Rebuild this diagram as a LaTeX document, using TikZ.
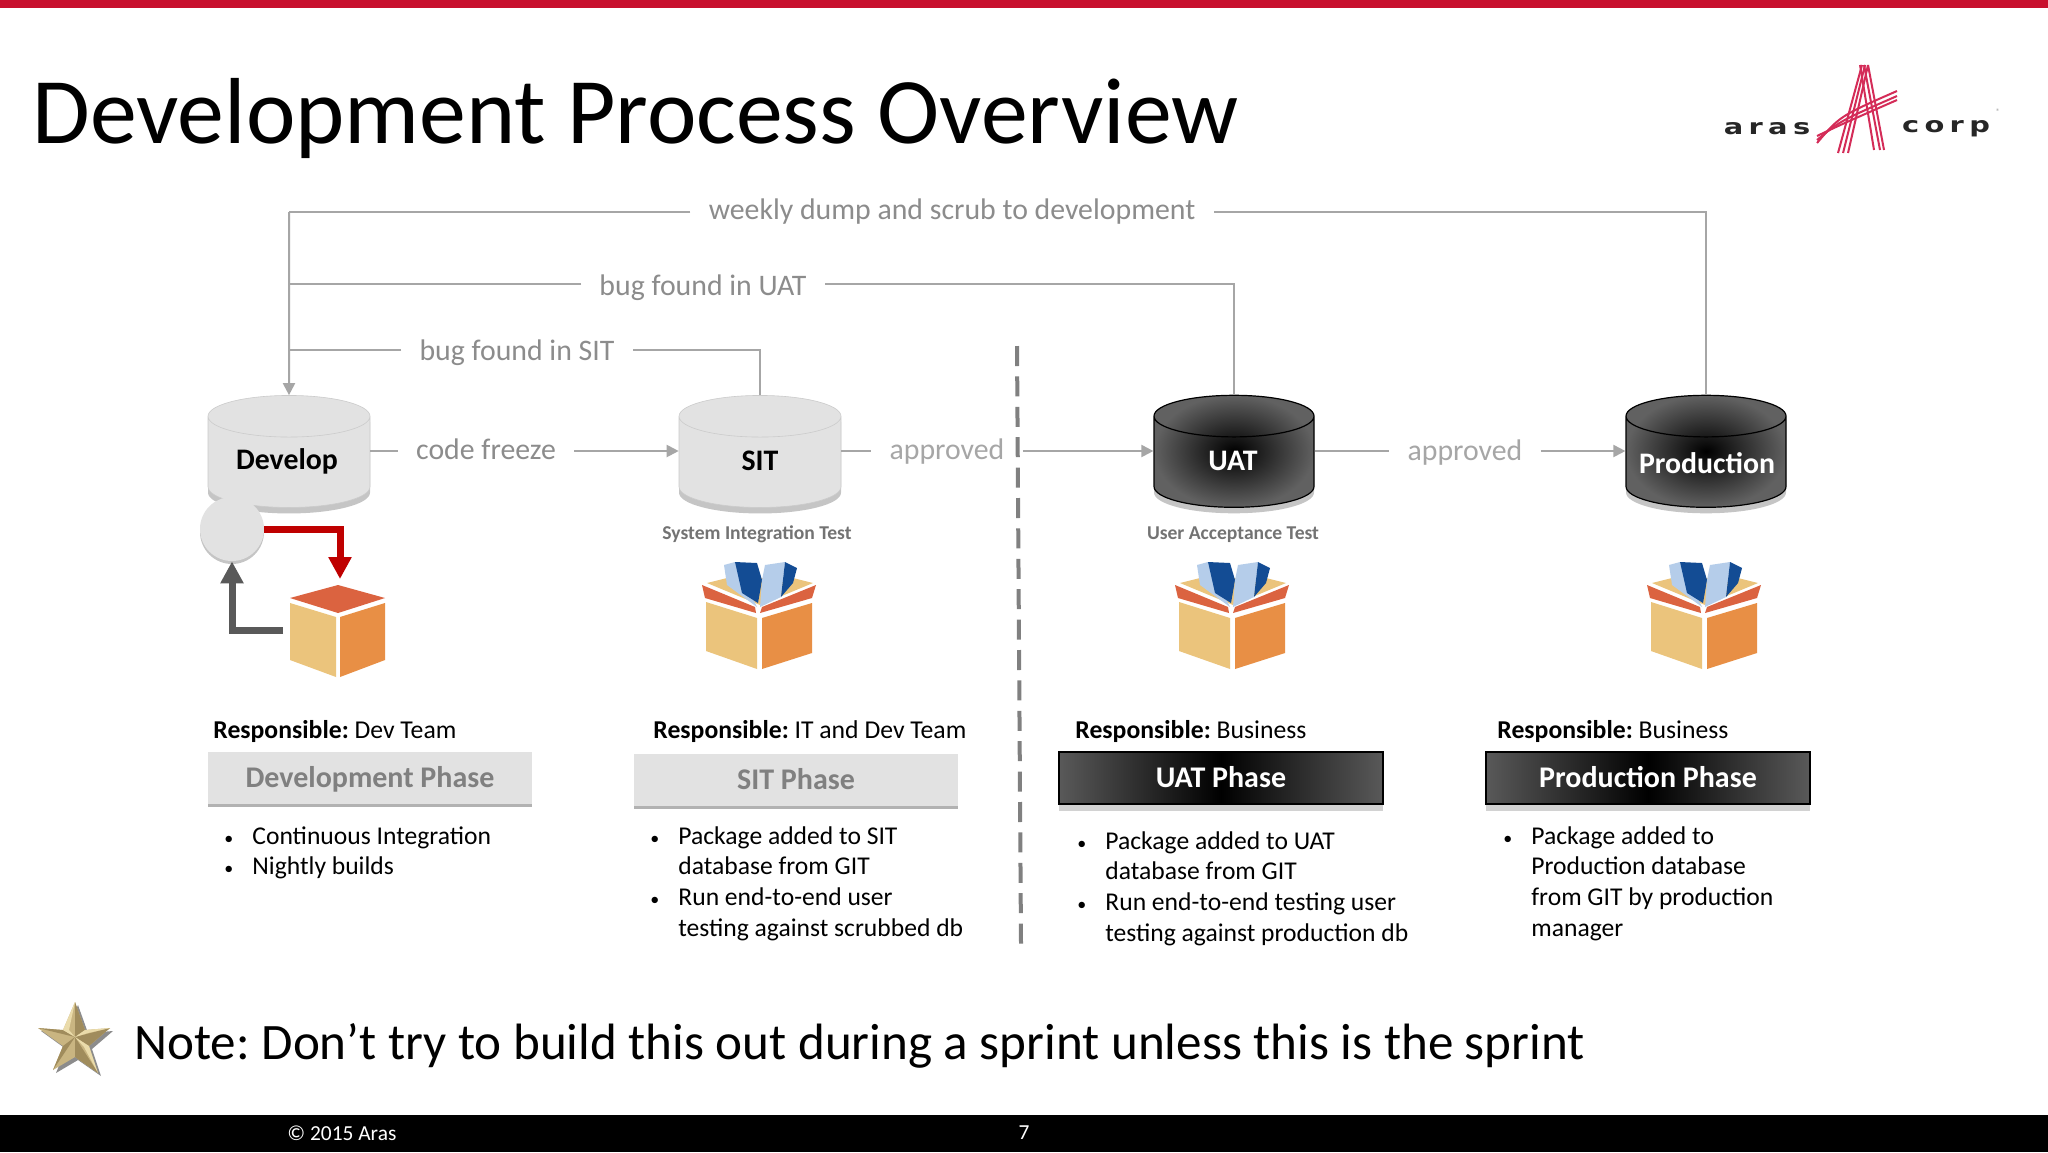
\documentclass[tikz,border=0pt]{standalone}
\usepackage{fontspec}
\setmainfont{Carlito}
\newfontfamily\logofont[FakeStretch=1.35,LetterSpace=25]{DejaVu Sans}
\usetikzlibrary{shapes.geometric,shadows,arrows.meta}
\definecolor{arasred}{HTML}{C8102E}
\definecolor{logored}{HTML}{D42C58}
\definecolor{linegray}{HTML}{A6A6A6}
\definecolor{labelgray}{HTML}{8C8C8C}
\definecolor{lightdb}{HTML}{E2E2E2}
\definecolor{boxtop}{HTML}{DB6340}
\definecolor{boxleft}{HTML}{EBC47C}
\definecolor{boxright}{HTML}{E88F45}
\definecolor{darkblue}{HTML}{134C94}
\definecolor{paleblue}{HTML}{B5CDEA}
\definecolor{starmid}{HTML}{C9B581}
\definecolor{starlight}{HTML}{EADBAA}
\definecolor{stardark}{HTML}{A08C5C}
\newcommand{\itemdot}{\llap{{\fontsize{9}{9}\selectfont\textbullet}\hspace{9.5pt}}}
\newcommand{\dbsize}{\phantom{\rule{16pt}{10pt}}}
\tikzset{
  pics/closedbox/.style={code={
    \fill[boxtop] (-48,-17) -- (0,-30) -- (47,-17) -- (0,-2) -- cycle;
    \fill[boxleft] (-48,-12) -- (-2,2) -- (-2,62) -- (-48,45) -- cycle;
    \fill[boxright] (2,2) -- (47,-12) -- (47,45) -- (2,62) -- cycle;
  }},
  pics/openbox/.style={code={
    \fill[boxleft] (-53,-32) -- (-33,-37) -- (33,-37) -- (53,-32) -- (0,-10) -- cycle;
    \fill[paleblue] (-36,-50) -- (-25,-53) -- (-3,-8) -- (-33,-30) -- cycle;
    \fill[darkblue] (-25,-53) -- (-3,-52) -- (2,-35) -- (-2,-12) -- (-18,-22) -- cycle;
    \fill[paleblue] (5,-50) -- (25,-53) -- (21,-18) -- (0,-8) -- (2,-35) -- cycle;
    \fill[darkblue] (25,-53) -- (37,-47) -- (33,-32) -- (21,-18) -- cycle;
    \fill[boxtop] (-58,-30) -- (-5,-8) -- (-4,-2) -- (-55,-17) -- cycle;
    \fill[boxtop] (56,-30) -- (2,-8) -- (0,-2) -- (52,-17) -- cycle;
    \fill[boxleft] (-54,-13) -- (-3,3) -- (-3,54) -- (-54,36) -- cycle;
    \fill[boxright] (2,3) -- (52,-12) -- (52,38) -- (2,54) -- cycle;
  }}
}
\begin{document}
\frenchspacing
\begin{tikzpicture}[x=0.5pt,y=-0.5pt]
\tikzstyle{every node}=[inner sep=0pt]
\tikzstyle{flowlabel}=[inner sep=9pt, text=labelgray, font=\fontsize{14.9}{17}\selectfont]
\tikzstyle{flowline}=[draw=linegray, line width=1pt]
\tikzstyle{flowarrow}=[flowline, -{Triangle[width=6pt,length=6pt]}]
\tikzstyle{database}=[cylinder, shape border rotate=90, aspect=1.3, minimum width=81pt, minimum height=56pt, inner sep=0pt]
\tikzstyle{lightdatabase}=[database, fill=lightdb, draw=lightdb!90!black, line width=0.3pt, drop shadow={shadow xshift=0pt, shadow yshift=-3pt, opacity=.45}]
\tikzstyle{darkdatabase}=[database, minimum width=80pt, shading=radial, inner color=black, outer color=black!62, draw=black, line width=0.6pt, drop shadow={shadow xshift=0pt, shadow yshift=-3pt, opacity=.45}]
\tikzstyle{dbname}=[font=\fontsize{14.9}{17}\selectfont\bfseries]
\tikzstyle{caption}=[text=black!55, font=\fontsize{9.8}{11}\selectfont\bfseries]
\tikzstyle{responsible}=[anchor=west, font=\fontsize{12.85}{15}\selectfont]
\tikzstyle{phase}=[minimum width=162pt, minimum height=26pt, text height=12pt, text depth=2.4pt, font=\fontsize{15}{17}\selectfont\bfseries]
\tikzstyle{lightphase}=[phase, fill=lightdb, text=black!50, drop shadow={shadow xshift=0pt, shadow yshift=-1.5pt, opacity=.6}]
\tikzstyle{darkphase}=[phase, draw=black, line width=0.6pt, left color=black!65, right color=black!65, middle color=black, text=white, drop shadow={shadow xshift=0pt, shadow yshift=-3.5pt, opacity=.35}]
\tikzstyle{points}=[anchor=north west, align=left, font=\fontsize{12.8}{15.4}\selectfont]
\tikzstyle{logotext}=[font=\logofont\fontsize{10.7}{12}\selectfont\bfseries, text=black!85]
\tikzstyle{logostroke}=[draw=logored, line width=1pt]

% slide frame
\useasboundingbox (0,0) rectangle (2048,1152);
\fill[white] (0,0) rectangle (2048,1152);
\fill[arasred] (0,0) rectangle (2048,8);
\fill[black] (0,1115) rectangle (2048,1152);
\node[anchor=base west, font=\fontsize{46.9}{52}\selectfont] (title) at (32,143) {Development Process Overview};
\node[anchor=west, text=white, font=\fontsize{10.7}{12}\selectfont] (copy) at (287,1133) {© 2015 Aras};
\node[text=white, font=\fontsize{10.7}{12}\selectfont] (page) at (1024,1133) {7};

% logo
\node[logotext] (aras) at (1767,129) {aras};
\node[logotext] (corp) at (1946,129) {corp};
\node[font=\fontsize{4}{5}\selectfont, text=black!40] (reg) at (1998,112) {®};
\foreach \xa/\xb in {1838/1862,1843/1865,1848/1868}
  \draw[logostroke] (\xa,153) -- (\xb,65);
\foreach \xa/\xb in {1874/1860,1880/1864,1884/1868}
  \draw[logostroke] (\xa,150) -- (\xb,65);
\foreach \ya/\yb in {143/91,140/96,136/100}
  \draw[logostroke] (1817,\ya) .. controls (1840,\yb+25) .. (1897,\yb);

% databases
\node[lightdatabase] (develop) at (289,462) {\dbsize};
\node[lightdatabase] (sit) at (760,462) {\dbsize};
\node[darkdatabase] (uat) at (1234,462) {\dbsize};
\node[darkdatabase] (production) at (1706,462) {\dbsize};
\node[dbname] (developname) at (287,461) {Develop};
\node[dbname] (sitlabel) at (760,461) {SIT};
\node[dbname, text=white] (uatlabel) at (1233,461) {UAT};
\node[dbname, text=white] (productionname) at (1707,463) {Production};
\node[caption] (sitname) at (757,534) {System Integration Test};
\node[caption] (uatname) at (1233,535) {User Acceptance Test};

% flow labels
\node[flowlabel] (weekly) at (952,212) {weekly dump and scrub to development};
\node[flowlabel] (bugu) at (703,288) {bug found in UAT};
\node[flowlabel] (bugs) at (517,353) {bug found in SIT};
\node[flowlabel] (freeze) at (486,449) {code freeze};
\node[flowlabel, text=linegray] (okuat) at (947,452) {approved};
\node[flowlabel, text=linegray] (okprod) at (1465,453) {approved};
\coordinate (turn) at (289,212);
\coordinate (turnu) at (289,284);
\coordinate (turns) at (289,350);

% connectors
\draw[flowline] (production.north) |- (weekly.east |- turn);
\draw[flowline] (weekly.west |- turn) -- (turn);
\draw[flowarrow] (turn) -- (develop.north);
\draw[flowline] (uat.north) |- (bugu.east |- turnu);
\draw[flowline] (bugu.west |- turnu) -- (turnu);
\draw[flowline] (sit.north) |- (bugs.east |- turns);
\draw[flowline] (bugs.west |- turns) -- (turns);
\draw[flowline] (develop.east |- 0,451) -- (freeze.west |- 0,451);
\draw[flowarrow] (freeze.east |- 0,451) -- (sit.west |- 0,451);
\draw[flowline] (sit.east |- 0,451) -- (okuat.west |- 0,451);
\draw[flowarrow] (okuat.east |- 0,451) -- (uat.west |- 0,451);
\draw[flowline] (uat.east |- 0,451) -- (okprod.west |- 0,451);
\draw[flowarrow] (okprod.east |- 0,451) -- (production.west |- 0,451);
\draw[black!50, line width=2pt, dash pattern=on 10pt off 5.2pt] (1017,346) -- (1021,944);

% build loop
\node[circle, fill=lightdb, minimum size=32pt, drop shadow={shadow xshift=0pt, shadow yshift=-1.5pt, opacity=.45}] (loop) at (232,529) {};
\pic at (338,615) {closedbox};
\coordinate (boxin) at (340,579);
\coordinate (boxout) at (283,630);
\draw[draw=red!75!black, line width=3.5pt, -{Triangle[width=11pt,length=11pt]}] (loop.east) -| (boxin);
\draw[draw=black!65, line width=3.5pt, -{Triangle[width=11pt,length=11pt]}] (boxout) -| (loop.south);

% packages
\pic at (760,615) {openbox};
\pic at (1233,615) {openbox};
\pic at (1705,615) {openbox};

% phases
\node[responsible] (rdev) at (213,731) {\textbf{Responsible:} Dev Team};
\node[responsible] (rsit) at (653,731) {\textbf{Responsible:} IT and Dev Team};
\node[responsible] (ruat) at (1075,731) {\textbf{Responsible:} Business};
\node[responsible] (rprod) at (1497,731) {\textbf{Responsible:} Business};
\node[lightphase] (pdev) at (370,778) {Development Phase};
\node[lightphase] (psit) at (796,780) {SIT Phase};
\node[darkphase] (puat) at (1221,778) {UAT Phase};
\node[darkphase] (pprod) at (1648,778) {Production Phase};

% lists
\node[points] (ldev) at (252,826) {\itemdot Continuous Integration\\\itemdot Nightly builds};
\node[points] (lsit) at (678,826) {\itemdot Package added to SIT\\database from GIT\\\itemdot Run end-to-end user\\testing against scrubbed db};
\node[points] (luat) at (1105,831) {\itemdot Package added to UAT\\database from GIT\\\itemdot Run end-to-end testing user\\testing against production db};
\node[points] (lprod) at (1531,826) {\itemdot Package added to\\Production database\\from GIT by production\\manager};

% note
\fill[black!45] (78,1005) -- (88,1033) -- (113,1031) -- (92,1049) -- (101,1076) -- (78,1060) -- (56,1073) -- (66,1049) -- (41,1031) -- (66,1033) -- cycle;
\fill[starmid] (75,1002) -- (85,1030) -- (110,1028) -- (89,1046) -- (98,1073) -- (75,1057) -- (53,1070) -- (63,1046) -- (38,1028) -- (63,1030) -- cycle;
\fill[stardark] (75,1002) -- (75,1037) -- (85,1030) -- cycle (110,1028) -- (75,1037) -- (89,1046) -- cycle (98,1073) -- (75,1037) -- (75,1057) -- cycle (53,1070) -- (75,1037) -- (63,1046) -- cycle (38,1028) -- (75,1037) -- (63,1030) -- cycle;
\fill[starlight] (75,1037) -- (63,1030) -- (75,1002) -- (69,1030) -- cycle (75,1037) -- (85,1030) -- (110,1028) -- (88,1033) -- cycle (75,1037) -- (89,1046) -- (98,1073) -- (84,1047) -- cycle;
\node[anchor=west, font=\fontsize{25.55}{30}\selectfont] (note) at (134,1046) {Note: Don’t try to build this out during a sprint unless this is the sprint};
\end{tikzpicture}
\end{document}
